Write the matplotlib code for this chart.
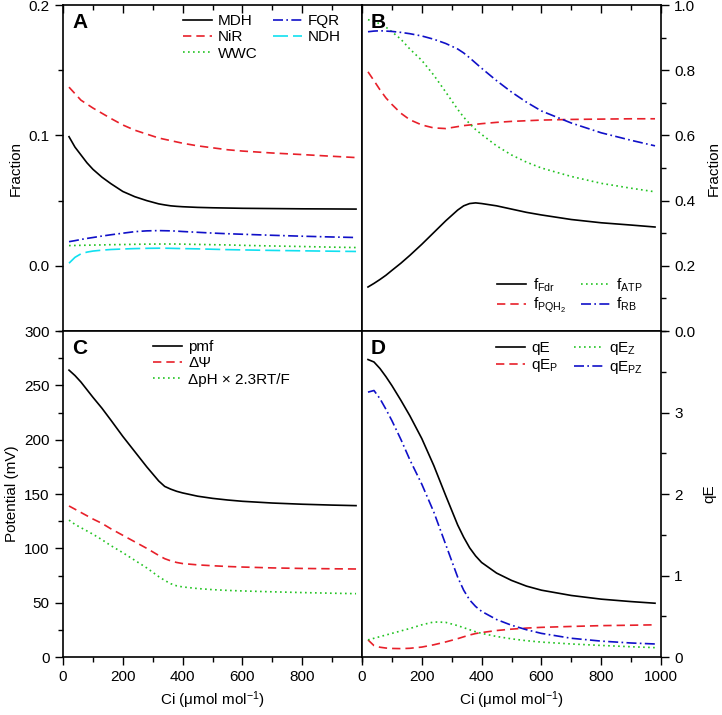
import matplotlib
matplotlib.use("Agg")
import matplotlib.pyplot as plt
from matplotlib.ticker import MultipleLocator

plt.rcParams['font.family'] = ['Liberation Sans', 'DejaVu Sans']
plt.rcParams['font.size'] = 11
plt.rcParams['mathtext.fontset'] = 'custom'
plt.rcParams['mathtext.rm'] = 'Liberation Sans'
plt.rcParams['mathtext.it'] = 'Liberation Sans:italic'

# Data
ci = [20, 40, 60, 80, 100, 130, 160, 200, 240, 280, 320, 340, 360, 380, 400,
      450, 500, 550, 600, 700, 800, 900, 980]

# Panel A
mdh = [0.099, 0.091, 0.085, 0.079, 0.074, 0.068, 0.063, 0.057, 0.053, 0.050, 0.0475,
       0.0467, 0.046, 0.0456, 0.0453, 0.0448, 0.0445, 0.0443, 0.0441, 0.0439, 0.0437,
       0.0436, 0.0435]
nir = [0.137, 0.132, 0.127, 0.124, 0.121, 0.117, 0.113, 0.108, 0.104, 0.101, 0.098,
       0.097, 0.096, 0.095, 0.094, 0.092, 0.0905, 0.089, 0.088, 0.0865, 0.0853,
       0.084, 0.083]
wwc = [0.0155, 0.0156, 0.0157, 0.0158, 0.0159, 0.016, 0.0162, 0.0163, 0.0165, 0.0166,
       0.0167, 0.0167, 0.0167, 0.0167, 0.0166, 0.0164, 0.0162, 0.016, 0.0157, 0.0152,
       0.0148, 0.0143, 0.014]
fqr = [0.0185, 0.0193, 0.0202, 0.021, 0.0217, 0.0228, 0.0238, 0.025, 0.0262, 0.0268,
       0.027, 0.0269, 0.0268, 0.0266, 0.0263, 0.0257, 0.0251, 0.0246, 0.0242, 0.0234,
       0.0227, 0.0221, 0.0217]
ndh = [0.002, 0.0065, 0.0092, 0.0105, 0.0113, 0.012, 0.0125, 0.0129, 0.0132, 0.0134,
       0.0135, 0.0135, 0.0134, 0.0133, 0.0132, 0.013, 0.0127, 0.0124, 0.0122, 0.0118,
       0.0115, 0.0112, 0.011]

# Panel B
f_fdr = [0.135, 0.146, 0.158, 0.171, 0.186, 0.208, 0.232, 0.266, 0.302, 0.338, 0.371,
         0.384, 0.391, 0.393, 0.391, 0.384, 0.374, 0.364, 0.356, 0.342, 0.332, 0.325, 0.319]
f_pqh2 = [0.795, 0.768, 0.74, 0.715, 0.695, 0.668, 0.648, 0.632, 0.623, 0.621, 0.627,
          0.63, 0.632, 0.634, 0.636, 0.64, 0.643, 0.645, 0.647, 0.649, 0.65, 0.651, 0.651]
f_atp = [0.955, 0.95, 0.942, 0.932, 0.918, 0.895, 0.865, 0.83, 0.785, 0.733, 0.68,
         0.656, 0.636, 0.618, 0.603, 0.568, 0.54, 0.518, 0.5, 0.474, 0.453, 0.438, 0.427]
f_rb = [0.918, 0.92, 0.921, 0.92, 0.919, 0.916, 0.912, 0.905, 0.895, 0.882, 0.865,
        0.853, 0.838, 0.822, 0.806, 0.768, 0.733, 0.702, 0.675, 0.638, 0.608, 0.585, 0.568]

# Panel C
pmf = [264, 259, 253, 246, 239, 229, 218, 203, 189, 175, 162,
       157, 154.5, 152.5, 151, 148, 146, 144.5, 143.3, 141.7, 140.6, 139.8, 139.3]
dpsi = [139, 136, 133, 130, 127, 123, 118, 112, 106, 100, 93.5,
        90.5, 88.5, 87, 86, 84.8, 84, 83.3, 82.8, 82, 81.5, 81.2, 81]
dph = [126, 122, 119, 116, 113, 108, 102.5, 96, 89, 82, 74,
       70.5, 67.5, 65.5, 64.5, 63, 62, 61.3, 60.8, 60, 59.3, 58.7, 58.3]

# Panel D
qe = [3.65, 3.62, 3.54, 3.44, 3.33, 3.15, 2.96, 2.68, 2.35, 1.98, 1.62,
      1.47, 1.34, 1.24, 1.16, 1.03, 0.94, 0.87, 0.82, 0.755, 0.71, 0.68, 0.66]
qe_p = [0.21, 0.14, 0.12, 0.11, 0.105, 0.103, 0.107, 0.122, 0.15, 0.185, 0.225,
        0.248, 0.27, 0.288, 0.3, 0.325, 0.342, 0.355, 0.364, 0.375, 0.385, 0.39, 0.395]
qe_z = [0.21, 0.23, 0.25, 0.27, 0.29, 0.32, 0.35, 0.395, 0.43, 0.425, 0.385,
        0.36, 0.335, 0.31, 0.29, 0.252, 0.223, 0.2, 0.183, 0.16, 0.142, 0.126, 0.115]
qe_pz = [3.25, 3.27, 3.17, 3.04, 2.9, 2.67, 2.42, 2.12, 1.78, 1.38, 0.98,
         0.82, 0.7, 0.62, 0.56, 0.46, 0.39, 0.335, 0.29, 0.23, 0.195, 0.172, 0.16]

black, red, green, blue, cyan = 'black', '#e8202a', '#22c322', '#1010c8', '#10e0f0'
lw = 1.2
dash, dot, dashdot, longdash = (0, (5, 3)), (0, (1, 2)), (0, (6, 2, 1, 2)), (0, (9, 3))
leg_kw = dict(frameon=False, handlelength=1.9, handletextpad=0.4,
              columnspacing=1.0, labelspacing=0.15, borderaxespad=0.2)

fig, axs = plt.subplots(2, 2, figsize=(7.22, 7.15), dpi=100)
fig.subplots_adjust(left=0.0873, right=0.9155, bottom=0.0811, top=0.993,
                    wspace=0, hspace=0)
axA, axB, axC, axD = axs[0, 0], axs[0, 1], axs[1, 0], axs[1, 1]

# A
axA.plot(ci, mdh, color=black, lw=lw, label='MDH')
axA.plot(ci, nir, color=red, lw=lw, ls=dash, label='NiR')
axA.plot(ci, wwc, color=green, lw=lw, ls=dot, label='WWC')
axA.plot(ci, fqr, color=blue, lw=lw, ls=dashdot, label='FQR')
axA.plot(ci, ndh, color=cyan, lw=lw, ls=longdash, label='NDH')
axA.set_ylim(-0.05, 0.2)
axA.yaxis.set_major_locator(MultipleLocator(0.1))
axA.yaxis.set_minor_locator(MultipleLocator(0.05))
axA.set_ylabel('Fraction')
axA.legend(ncol=2, loc='upper right', bbox_to_anchor=(0.96, 1.0), **leg_kw)

# B
axB.plot(ci, f_fdr, color=black, lw=lw, label='f$_{\\mathrm{Fdr}}$')
axB.plot(ci, f_pqh2, color=red, lw=lw, ls=dash, label='f$_{\\mathrm{PQH_2}}$')
axB.plot(ci, f_atp, color=green, lw=lw, ls=dot, label='f$_{\\mathrm{ATP}}$')
axB.plot(ci, f_rb, color=blue, lw=lw, ls=dashdot, label='f$_{\\mathrm{RB}}$')
axB.set_ylim(0, 1.0)
axB.yaxis.set_major_locator(MultipleLocator(0.2))
axB.yaxis.set_minor_locator(MultipleLocator(0.1))
axB.yaxis.tick_right()
axB.yaxis.set_label_position('right')
axB.set_ylabel('Fraction', labelpad=8)
axB.legend(ncol=2, loc='lower right', bbox_to_anchor=(0.97, 0.02), **leg_kw)

# C
axC.plot(ci, pmf, color=black, lw=lw, label='pmf')
axC.plot(ci, dpsi, color=red, lw=lw, ls=dash, label='ΔΨ')
axC.plot(ci, dph, color=green, lw=lw, ls=dot, label='ΔpH × 2.3RT/F')
axC.set_ylim(0, 300)
axC.yaxis.set_major_locator(MultipleLocator(50))
axC.yaxis.set_minor_locator(MultipleLocator(25))
axC.set_ylabel('Potential (mV)')
axC.legend(loc='upper left', bbox_to_anchor=(0.27, 1.0), **leg_kw)

# D
axD.plot(ci, qe, color=black, lw=lw, label='qE')
axD.plot(ci, qe_p, color=red, lw=lw, ls=dash, label='qE$_{\\mathrm{P}}$')
axD.plot(ci, qe_z, color=green, lw=lw, ls=dot, label='qE$_{\\mathrm{Z}}$')
axD.plot(ci, qe_pz, color=blue, lw=lw, ls=dashdot, label='qE$_{\\mathrm{PZ}}$')
axD.set_ylim(0, 4)
axD.set_yticks([0, 1, 2, 3])
axD.yaxis.set_minor_locator(MultipleLocator(0.5))
axD.yaxis.tick_right()
axD.yaxis.set_label_position('right')
axD.set_ylabel('qE', labelpad=14)
axD.legend(ncol=2, loc='upper right', bbox_to_anchor=(0.97, 1.0), **leg_kw)

for ax in axs.flat:
    ax.set_xlim(0, 1000)
    ax.xaxis.set_major_locator(MultipleLocator(200))
    ax.xaxis.set_minor_locator(MultipleLocator(100))
    ax.tick_params(which='major', length=6, width=1)
    ax.tick_params(which='minor', length=3.5, width=1)
    ax.tick_params(axis='y', which='both', direction='out')
    for s in ax.spines.values():
        s.set_linewidth(1.2)

for ax in (axA, axB):
    ax.tick_params(axis='x', which='both', direction='in', top=True, bottom=False,
                   labeltop=False, labelbottom=False)
for ax in (axC, axD):
    ax.tick_params(axis='x', which='both', direction='out', top=False, bottom=True)
    ax.set_xlabel('Ci (μmol mol$^{-1}$)')

axC.set_xticks([0, 200, 400, 600, 800])
axC.xaxis.set_minor_locator(MultipleLocator(100))
axD.set_xticks([0, 200, 400, 600, 800, 1000])

for ax, letter in zip((axA, axB, axC, axD), 'ABCD'):
    ax.text(0.03, 0.975, letter, transform=ax.transAxes, fontsize=15,
            fontweight='bold', va='top', ha='left')

fig.savefig('out.png', dpi=100)
